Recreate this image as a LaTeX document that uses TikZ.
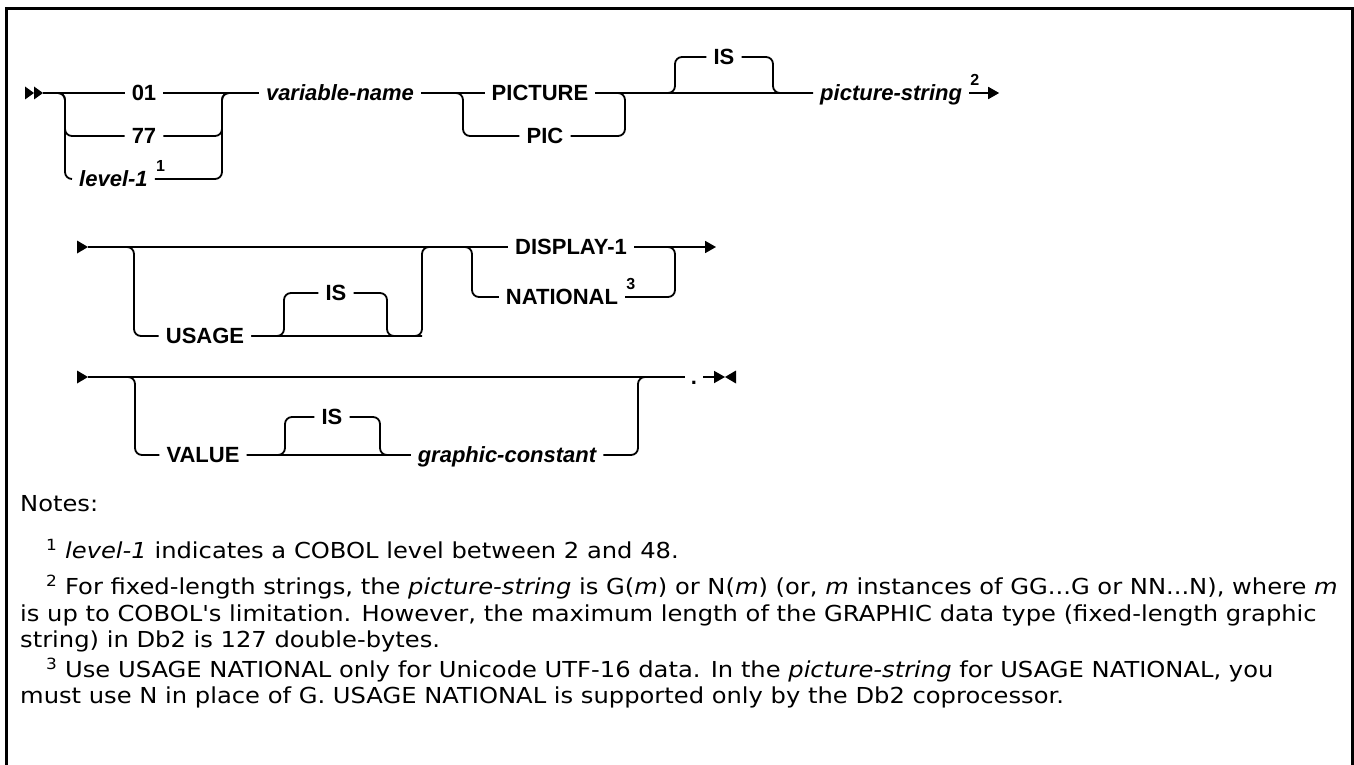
\documentclass[tikz,border=0pt]{standalone}
\usepackage{fontspec}
\setmainfont{Liberation Sans}
\newfontfamily\notefont[FakeStretch=1.1]{DejaVu Sans}
\usepackage{tikz}
\usetikzlibrary{positioning, arrows.meta}
\tikzstyle{kw} = [font=\fontsize{22}{26}\selectfont\bfseries, inner xsep=7pt, inner ysep=0pt, text height=15.8pt, text depth=0pt]
\tikzstyle{var} = [kw, font=\fontsize{22}{26}\selectfont\bfseries\itshape]
\tikzstyle{supnum} = [font=\fontsize{16}{16}\selectfont\bfseries, inner sep=0pt]
\tikzstyle{rail} = [line width=1.8pt, rounded corners=7pt]
\tikzstyle{arrow} = [line width=1.8pt, -{Triangle[length=11pt,width=12pt]}]
\tikzstyle{note} = [font=\notefont\fontsize{22}{27}\selectfont, inner sep=0pt, anchor=base west]

\begin{document}
\begin{tikzpicture}[x=1pt, y=-1pt]
\useasboundingbox (0,0) rectangle (1354,765);
\draw[line width=3pt] (6,765) -- (6,9) -- (1352,9) -- (1352,765);

% ---------------------------------------------
% Row 1: level, name, PICTURE clause
% ---------------------------------------------
\coordinate (s1) at (43,93);
\coordinate (sp1) at (65,93);
\coordinate (jn1) at (222,93);
\node[kw] (n01) at (144,93) {01};
\node[kw] (n77) at (144,136) {77};
\node[var, anchor=west] (lev) at (72,179) {level-1};
\node[supnum, anchor=south west] (sup1) at ([xshift=1pt, yshift=7pt]lev.east) {1};
\node[var] (nvar) at (340,93) {variable-name};

\coordinate (sp2) at (463,93);
\coordinate (jn2) at (625,93);
\node[kw] (pict) at (540,93) {PICTURE};
\node[kw] (pic) at (545,136) {PIC};

\coordinate (isa) at (675,93);
\coordinate (isb) at (773,93);
\node[kw] (is1) at (724,57) {IS};
\node[var, anchor=west] (nps) at (813,93) {picture-string};
\node[supnum, anchor=south west] (sup2) at ([xshift=1pt, yshift=7pt]nps.east) {2};
\coordinate[right=30pt of nps.east] (e1);

\fill (s1) -- ++(-9,-6.5) -- ++(0,13) -- cycle;
\fill ([xshift=-9pt]s1) -- ++(-9,-6.5) -- ++(0,13) -- cycle;
\draw[rail] (s1) -- (n01) -- (nvar) -- (pict) -- (nps);
\draw[rail] (s1) -- (sp1) |- (n77);
\draw[rail] (s1) -- (sp1) |- (lev);
\draw[rail] (n77) -| (jn1) -- (nvar);
\draw[rail] (lev) -| (jn1) -- (nvar);
\draw[rail] (nvar) -- (sp2) |- (pic);
\draw[rail] (pic) -| (jn2) -- (pict);
\draw[rail] (jn2) -- (isa) |- (is1);
\draw[rail] (is1) -| (isb) -- (nps);
\draw[arrow] (nps) -- (e1);

% ---------------------------------------------
% Row 2: USAGE clause
% ---------------------------------------------
\coordinate (s2) at (88,247);
\coordinate (sp3) at (134,247);
\coordinate (jn3) at (422,247);
\node[kw] (usage) at (205,336) {USAGE};
\coordinate (isc) at (284,336);
\coordinate (isd) at (387,336);
\node[kw] (is2) at (336,293) {IS};

\coordinate (sp4) at (472,247);
\coordinate (jn4) at (675,247);
\node[kw] (disp) at (571,247) {DISPLAY-1};
\node[kw] (natl) at (562,297) {NATIONAL};
\node[supnum, anchor=south west] (sup3) at ([xshift=1pt, yshift=7pt]natl.east) {3};
\coordinate (e2) at (716,247);

\fill (s2) -- ++(-11,-6.5) -- ++(0,13) -- cycle;
\draw[rail] (s2) -- (disp);
\draw[rail] (s2) -- (sp3) |- (usage);
\draw[rail] (usage) -- (isc) |- (is2);
\draw[rail] (is2) -| (isd) -- (usage.east -| jn3);
\draw[rail] (usage) -| (jn3) -- (disp);
\draw[rail] (jn3) -- (sp4) |- (natl);
\draw[rail] (natl) -| (jn4) -- (disp);
\draw[arrow] (disp) -- (e2);

% ---------------------------------------------
% Row 3: VALUE clause
% ---------------------------------------------
\coordinate (s3) at (88,377);
\coordinate (sp5) at (135,377);
\coordinate (jn5) at (638,377);
\node[kw] (value) at (203,455) {VALUE};
\coordinate (ise) at (285,455);
\coordinate (isf) at (380,455);
\node[kw] (is3) at (332,417) {IS};
\node[var] (gcon) at (507,455) {graphic-constant};
\node[kw, inner xsep=6pt] (dot) at (694,377) {.};
\coordinate (e3) at (725,377);

\fill (s3) -- ++(-11,-6.5) -- ++(0,13) -- cycle;
\draw[rail] (s3) -- (dot);
\draw[rail] (s3) -- (sp5) |- (value);
\draw[rail] (value) -- (ise) |- (is3);
\draw[rail] (is3) -| (isf) -- (gcon);
\draw[rail] (value) -- (gcon);
\draw[rail] (gcon) -| (jn5) -- (dot);
\draw[arrow] (dot) -- (e3);
\fill (e3) -- ++(11,-6.5) -- ++(0,13) -- cycle;

% ---------------------------------------------
% Notes
% ---------------------------------------------
\node[note] (notes) at (20,511) {Notes:};
\node[note] (fn1) at (46,558) {\textsuperscript{1} \textit{level-1} indicates a COBOL level between 2 and 48.};
\node[note] (fn2a) at (46,594) {\textsuperscript{2} For fixed-length strings, the \textit{picture-string} is G(\textit{m}) or N(\textit{m}) (or, \textit{m} instances of GG...G or NN...N), where \textit{m}};
\node[note] (fn2b) at (20,621) {is up to COBOL's limitation. However, the maximum length of the GRAPHIC data type (fixed-length graphic};
\node[note] (fn2c) at (20,647) {string) in Db2 is 127 double-bytes.};
\node[note] (fn3a) at (46,677) {\textsuperscript{3} Use USAGE NATIONAL only for Unicode UTF-16 data. In the \textit{picture-string} for USAGE NATIONAL, you};
\node[note] (fn3b) at (20,703) {must use N in place of G. USAGE NATIONAL is supported only by the Db2 coprocessor.};
\end{tikzpicture}
\end{document}
